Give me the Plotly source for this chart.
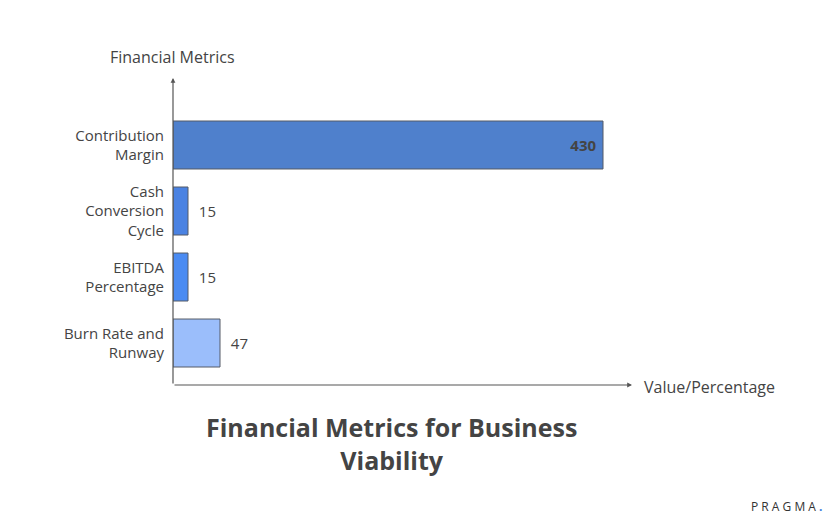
import plotly.graph_objects as go

# data, bottom bar first
categories = ["Burn Rate and<br>Runway", "EBITDA<br>Percentage", "Cash<br>Conversion<br>Cycle", "Contribution<br>Margin"]
values = [47, 15, 15, 430]
bar_colors = ["#9bbefb", "#4a8bf2", "#4a82e2", "#4f80cc"]
text_pos = ["outside", "outside", "outside", "inside"]
text_tpl = ["  %{x}", "  %{x}", "  %{x}", "<b>%{x}</b> "]

font_name = "Open Sans"
ink = "#444444"

# page is drawn with an 8px body margin, so work in screen pixels and shift
OFF = 8
W, H = 836 - OFF, 522 - OFF
L, T = 173 - OFF, 78 - OFF
R = W - (632 - OFF)
B = H - (385 - OFF)
plot_w = W - L - R
plot_h = H - T - B


def px(x):  # screen pixel x -> paper
    return (x - OFF - L) / plot_w


def py(y):  # screen pixel y -> paper
    return (H - B - (y - OFF)) / plot_h


fig = go.Figure()

fig.add_trace(go.Bar(
    y=categories, x=values, orientation="h",
    marker=dict(color=bar_colors, line=dict(color="#555b66", width=1)),
    width=0.727,
    text=values, texttemplate=text_tpl, textposition=text_pos,
    insidetextanchor="end",
    textfont=dict(family=font_name, size=15, color=ink),
    cliponaxis=False,
    hoverinfo="skip",
))

arrow = dict(xref="x domain", yref="y domain", axref="x domain", ayref="y domain",
             showarrow=True, arrowhead=2, arrowsize=0.8, arrowwidth=1.2,
             arrowcolor="#555555", text="")

fig.update_layout(
    width=W, height=H,
    margin=dict(l=L, r=R, t=T, b=B),
    paper_bgcolor="white", plot_bgcolor="white",
    showlegend=False,
    font=dict(family=font_name, color=ink, size=15),
    xaxis=dict(range=[0, 459], showgrid=False, zeroline=False, showticklabels=False,
               showline=False, fixedrange=True),
    yaxis=dict(range=[-0.636, 4.015], showgrid=False, zeroline=False, showline=False,
               ticks="", ticklabelstandoff=8, tickfont=dict(size=15, color=ink),
               fixedrange=True),
    annotations=[
        dict(arrow, x=0, y=1, ax=0, ay=0),
        dict(arrow, x=1, y=0, ax=0, ay=0),
        dict(text="Financial Metrics", x=px(172), y=py(57), xref="paper", yref="paper",
             xanchor="center", yanchor="middle", showarrow=False, font=dict(size=16, color=ink)),
        dict(text="Value/Percentage", x=px(642), y=py(387), xref="paper", yref="paper",
             xanchor="left", yanchor="middle", showarrow=False, font=dict(size=16, color=ink)),
        dict(text="<b>Financial Metrics for Business<br>Viability</b>", x=px(391), y=py(443),
             xref="paper", yref="paper", xanchor="center", yanchor="middle",
             showarrow=False, font=dict(size=25, color=ink)),
        dict(text="P R A G M A <span style='color:#3b7ddd'><b>.</b></span>", x=px(786), y=py(506),
             xref="paper", yref="paper", xanchor="center", yanchor="middle",
             showarrow=False, font=dict(size=12, color="#333333")),
    ],
)

fig.write_html("out.html")
